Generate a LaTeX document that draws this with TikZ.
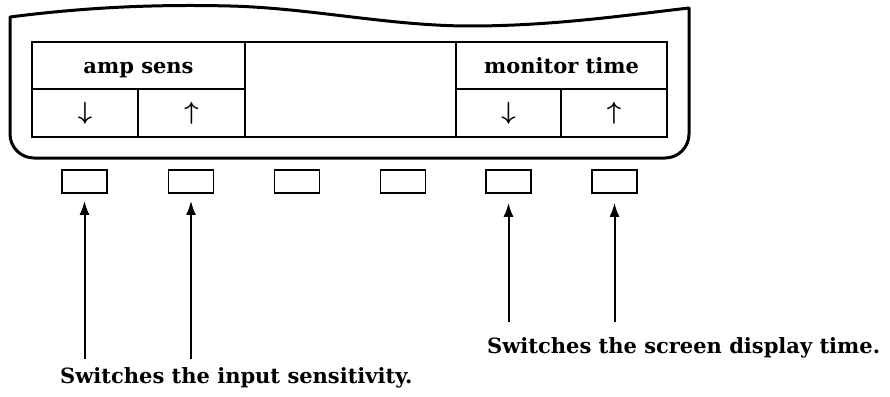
\documentclass[tikz,border=0pt]{standalone}
\usepackage{fontspec}
\setmainfont{DejaVu Serif}
\usetikzlibrary{arrows.meta}
\begin{document}
\begin{tikzpicture}[x=1pt,y=-1pt,
  casing/.style={line width=3pt,line join=round},
  cell/.style={draw,line width=1.6pt,inner sep=0pt,anchor=center},
  btn/.style={draw,line width=1.6pt,minimum width=45pt,minimum height=23pt,inner sep=0pt},
  arr/.style={line width=2pt,-{Latex[length=14pt,width=10pt]}},
  lbl/.style={font=\bfseries\fontsize{21}{24}\selectfont,inner sep=0pt},
  glyph/.style={font=\boldmath\fontsize{27}{30}\selectfont,inner sep=0pt}]
\useasboundingbox (0,0) rectangle (890,396);

% outer housing with wavy top edge
\draw[casing] (689,8) [rounded corners=24pt] -- (689,158) -- (10,158) [sharp corners] -- (10,17)
  .. controls (80,8) and (150,4) .. (230,6)
  .. controls (310,8) and (390,26) .. (470,26)
  .. controls (550,26) and (620,16) .. (689,8) -- cycle;

% display panel cells
\node[cell,minimum width=213pt,minimum height=47pt] (amp) at (138.5,65.5) {};
\node[cell,minimum width=106pt,minimum height=48pt] (ampdn) at (85,113) {};
\node[cell,minimum width=107pt,minimum height=48pt] (ampup) at (191.5,113) {};
\node[cell,minimum width=211pt,minimum height=95pt] (blank) at (350.5,89.5) {};
\node[cell,minimum width=211pt,minimum height=47pt] (mon) at (561.5,65.5) {};
\node[cell,minimum width=105pt,minimum height=48pt] (mondn) at (508.5,113) {};
\node[cell,minimum width=106pt,minimum height=48pt] (monup) at (614,113) {};

\node[lbl,anchor=base] at ([yshift=-7.5pt]amp.center) {amp sens};
\node[lbl,anchor=base] at ([yshift=-7.5pt]mon.center) {monitor time};
\node[glyph] at (ampdn.center) {$\downarrow$};
\node[glyph] at (ampup.center) {$\uparrow$};
\node[glyph] at (mondn.center) {$\downarrow$};
\node[glyph] at (monup.center) {$\uparrow$};

% push buttons below the display
\node[btn] (b1) at (84.5,181.5) {};
\node[btn] (b2) at (191,181.5) {};
\node[btn] (b3) at (297,181.5) {};
\node[btn] (b4) at (403,181.5) {};
\node[btn] (b5) at (508.5,181.5) {};
\node[btn] (b6) at (614.5,181.5) {};

% pointers from the captions
\coordinate (p1) at (84.5,359);
\coordinate (p2) at (191,359);
\coordinate (p5) at (508.5,322);
\coordinate (p6) at (614.5,322);
\draw[arr,shorten >=7pt] (p1) -- (b1.south);
\draw[arr,shorten >=7pt] (p2) -- (b2.south);
\draw[arr,shorten >=9pt] (p5) -- (b5.south);
\draw[arr,shorten >=9pt] (p6) -- (b6.south);

\node[lbl,anchor=base west] (capL) at (60,383) {Switches the input sensitivity.};
\node[lbl,anchor=base west] (capR) at (487,353) {Switches the screen display time.};
\end{tikzpicture}
\end{document}
